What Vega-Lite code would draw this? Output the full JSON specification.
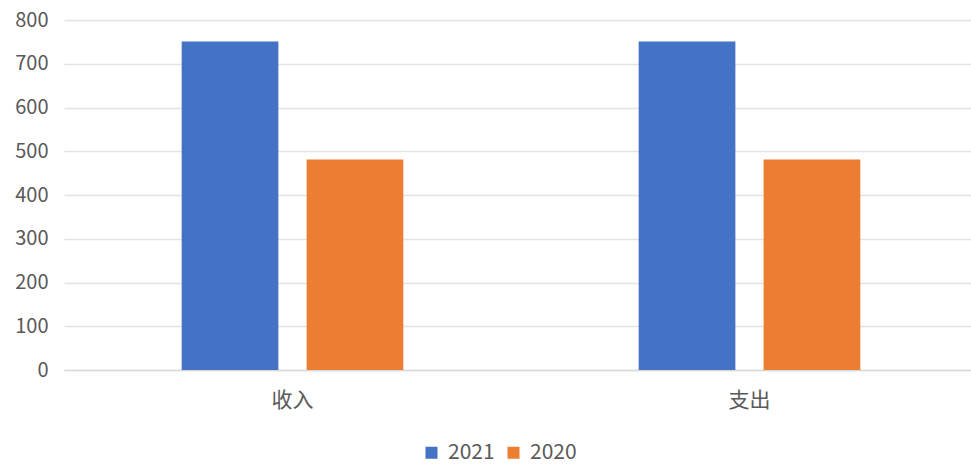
{
  "$schema": "https://vega.github.io/schema/vega-lite/v6.json",
  "width": 914,
  "height": 350,
  "autosize": {"type": "none"},
  "padding": {"left": 64, "top": 20, "right": 0, "bottom": 98},
  "background": "#ffffff",
  "data": {
    "values": [
      {"category": "收入", "year": "2021", "value": 751},
      {"category": "收入", "year": "2020", "value": 481},
      {"category": "支出", "year": "2021", "value": 751},
      {"category": "支出", "year": "2020", "value": 481}
    ]
  },
  "config": {
    "view": {"stroke": null},
    "font": "Noto Sans CJK SC"
  },
  "mark": {"type": "bar"},
  "encoding": {
    "x": {
      "field": "category",
      "type": "nominal",
      "sort": ["收入", "支出"],
      "scale": {"paddingInner": 0.515, "paddingOuter": 0.2575},
      "axis": {
        "title": null,
        "labelAngle": 0,
        "labelFontSize": 21,
        "labelColor": "#595959",
        "labelPadding": 19,
        "ticks": false,
        "domain": true,
        "domainColor": "#d9d9d9",
        "domainWidth": 1.5
      }
    },
    "xOffset": {
      "field": "year",
      "type": "nominal",
      "sort": ["2021", "2020"],
      "scale": {"paddingInner": 0.226, "paddingOuter": 0}
    },
    "y": {
      "field": "value",
      "type": "quantitative",
      "scale": {"domain": [0, 800]},
      "axis": {
        "title": null,
        "values": [0, 100, 200, 300, 400, 500, 600, 700, 800],
        "labelOverlap": false,
        "labelFontSize": 20,
        "labelColor": "#595959",
        "labelPadding": 16,
        "ticks": false,
        "domain": false,
        "gridColor": "#e3e3e3",
        "gridWidth": 1.5
      }
    },
    "color": {
      "field": "year",
      "type": "nominal",
      "scale": {"domain": ["2021", "2020"], "range": ["#4472C4", "#ED7D31"]},
      "legend": {
        "title": null,
        "orient": "none",
        "legendX": 357,
        "legendY": 422,
        "direction": "horizontal",
        "symbolType": "square",
        "symbolSize": 144,
        "symbolStrokeWidth": 0,
        "labelFontSize": 21,
        "labelColor": "#595959",
        "columnPadding": 8,
        "labelOffset": 6
      }
    }
  }
}
